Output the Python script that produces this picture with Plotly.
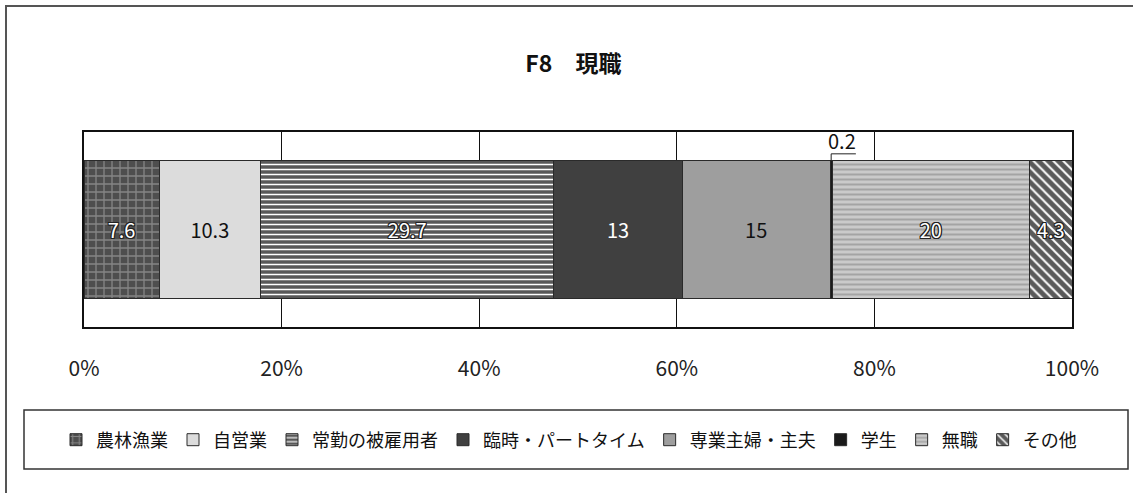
import plotly.graph_objects as go

# ---- data ----
title_text = "F8　現職"
categories = ["農林漁業", "自営業", "常勤の被雇用者", "臨時・パートタイム",
              "専業主婦・主夫", "学生", "無職", "その他"]
values = [7.6, 10.3, 29.7, 13, 15, 0.2, 20, 4.3]
tick_vals = [0, 20, 40, 60, 80, 100]
tick_text = ["0%", "20%", "40%", "60%", "80%", "100%"]

# ---- styles ----
fill_colors = ["#4e4e4e", "#dcdcdc", "#585858", "#404040", "#9e9e9e", "#1a1a1a", "#cacaca", "#5a5a5a"]
pattern_shapes = ["+", "", "-", "", "", "", "-", "\\"]
pattern_fg = ["#858585", None, "#ffffff", None, None, None, "#a4a4a4", "#ffffff"]
pattern_size = [8, 8, 5, 8, 8, 8, 5, 7]
pattern_solid = [0.3, 0.3, 0.3, 0.3, 0.3, 0.3, 0.4, 0.28]
label_color = ["#ffffff", "#111111", "#ffffff", "#ffffff", "#111111", "#111111", "#ffffff", "#ffffff"]
label_outline = [True, False, True, False, False, False, True, True]
label_inside = [True, True, True, True, True, False, True, True]

FONT = "Noto Sans CJK JP"
OUTLINE = "1px 1px 0 #222, -1px -1px 0 #222, 1px -1px 0 #222, -1px 1px 0 #222, 0 1px 0 #222, 0 -1px 0 #222, 1px 0 0 #222, -1px 0 0 #222"
BAR_W = 0.71

W, H = 1133, 493
# plot area in screen pixels: x 84..1072, y 132..327
ML = 84
MT = 132
PW = 1072 - 84
PH = 327 - 132
MR = W - ML - PW
MB = H - MT - PH


def xp(px):
    return (px - ML) / PW


def yp(py):
    return (MT + PH - py) / PH


fig = go.Figure()
for i, (cat, v) in enumerate(zip(categories, values)):
    pat = dict(shape=pattern_shapes[i], size=pattern_size[i], solidity=pattern_solid[i],
               fillmode="replace", bgcolor=fill_colors[i])
    if pattern_fg[i]:
        pat["fgcolor"] = pattern_fg[i]
    fig.add_trace(go.Bar(
        name=cat, y=[0], x=[v], orientation="h", width=BAR_W,
        marker=dict(color=fill_colors[i], line=dict(color="#2a2a2a", width=1), pattern=pat),
        text=[f"{v:g}" if label_inside[i] else ""],
        textposition="inside", insidetextanchor="middle", textangle=0,
        textfont=dict(family=FONT, size=20, color=label_color[i],
                      shadow=OUTLINE if label_outline[i] else "none"),
        hoverinfo="name+x",
    ))

# outside label with leader line for tiny segments
total = sum(values)
cum = 0.0
for i, v in enumerate(values):
    if not label_inside[i]:
        xc = (cum + v / 2) / total * 100
        y_top = BAR_W / 2
        y_corner = y_top + 0.033
        fig.add_shape(type="path", xref="x", yref="y",
                      path=f"M {xc},{y_top} L {xc},{y_corner} L {xc + 2.5},{y_corner}",
                      line=dict(color="#222222", width=1))
        fig.add_annotation(x=xc + 1.1, y=y_corner, xref="x", yref="y", text=f"{v:g}",
                           showarrow=False, yanchor="bottom", yshift=-3,
                           font=dict(family=FONT, size=20, color="#111111"))
    cum += v

# outer frame and legend box
fig.add_shape(type="rect", xref="paper", yref="paper",
              x0=xp(6), x1=xp(1150), y0=yp(510), y1=yp(6),
              line=dict(color="#555555", width=2), layer="below")
fig.add_shape(type="rect", xref="paper", yref="paper",
              x0=xp(24), x1=xp(1128), y0=yp(469), y1=yp(410),
              line=dict(color="#333333", width=1.5), layer="below")

fig.update_layout(
    width=W, height=H,
    margin=dict(l=ML, r=MR, t=MT, b=MB, autoexpand=False),
    barmode="stack", barnorm="percent",
    paper_bgcolor="white", plot_bgcolor="white",
    font=dict(family=FONT, color="#111111"),
    title=dict(text=f"<b>{title_text}</b>", x=xp(584), xanchor="center",
               y=1 - 64 / H, yanchor="middle",
               font=dict(family=FONT, size=23, color="#111111")),
    xaxis=dict(range=[0, 100], tickvals=tick_vals, ticktext=tick_text,
               showgrid=True, gridcolor="#111111", gridwidth=1,
               showline=True, linecolor="#111111", linewidth=2, mirror=True,
               zeroline=False, ticks="", ticklabelstandoff=22,
               tickfont=dict(family=FONT, size=21, color="#222222")),
    yaxis=dict(range=[-0.5, 0.5], showticklabels=False, showgrid=False,
               showline=True, linecolor="#111111", linewidth=2, mirror=True,
               zeroline=False),
    legend=dict(orientation="h", x=xp(56), xanchor="left", y=yp(440), yanchor="middle",
                traceorder="normal", font=dict(family=FONT, size=18, color="#111111"),
                bgcolor="rgba(0,0,0,0)", borderwidth=0, itemclick=False),
    showlegend=True,
)

fig.write_html("out.html", config={"displayModeBar": False},
               post_script="document.body.style.margin='0px';document.body.style.padding='0px';")
